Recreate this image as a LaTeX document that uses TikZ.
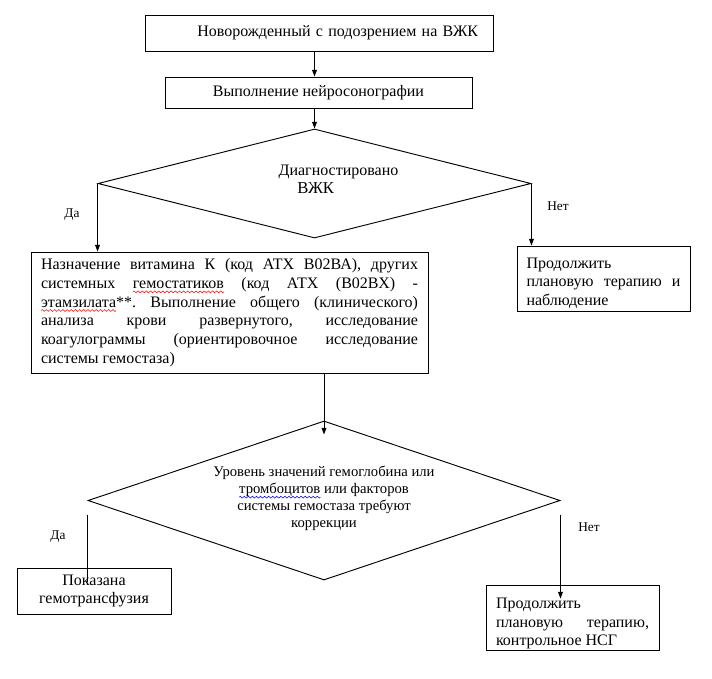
\documentclass[tikz,border=0pt]{standalone}
\usepackage{fontspec}
\setmainfont{Liberation Serif}
\usetikzlibrary{arrows.meta,shapes.geometric}
\frenchspacing
\newsavebox\wavered
\newsavebox\waveblue
\newcommand\wavebit[1]{\begin{pgfpicture}\pgfpathrectangle{\pgfpointorigin}{\pgfpoint{3pt}{0pt}}\pgfusepath{use as bounding box}\pgfsetstrokecolor{#1}\pgfsetlinewidth{0.4pt}\pgfpathmoveto{\pgfpointorigin}\pgfpathlineto{\pgfpoint{0.75pt}{0.7pt}}\pgfpathlineto{\pgfpoint{2.25pt}{-0.7pt}}\pgfpathlineto{\pgfpoint{3pt}{0pt}}\pgfusepath{stroke}\end{pgfpicture}}
\newcommand\wavyunder[2]{\setbox0\hbox{#2}\rlap{\raisebox{-2.6pt}{\hbox to\wd0{\xleaders\copy#1\hfil}}}\box0\relax}
\newcommand\spellred[1]{\wavyunder\wavered{#1}}
\newcommand\spellblue[1]{\wavyunder\waveblue{#1}}
\begin{document}
\sbox\wavered{\wavebit{red}}\sbox\waveblue{\wavebit{blue}}%
\begin{tikzpicture}[x=0.75pt,y=-0.75pt,box/.style={draw=black,line width=0.7pt,inner sep=0pt,font=\fontsize{12}{14}\selectfont},dia/.style={diamond,draw=black,line width=0.7pt,inner sep=0pt},lbl/.style={font=\fontsize{10}{12}\selectfont,inner sep=0pt},arr/.style={-{Triangle[length=5pt,width=3.6pt]},draw=black,line width=0.7pt},ln/.style={draw=black,line width=0.7pt}]
\useasboundingbox (0,0) rectangle (712,678);
\node[box,minimum width=261pt,minimum height=27pt,text width=238.5pt,align=right] (newborn) at (319,33) {Новорожденный с подозрением на ВЖК};
\node[box,minimum width=230.25pt,minimum height=23.25pt] (nsg) at (318.5,92.5) {Выполнение нейросонографии};
\node[dia,minimum width=324.75pt,minimum height=81.75pt] (ivh) at (314.5,183.5) {};
\node[font=\fontsize{12}{13.5}\selectfont,align=left,inner sep=0pt] (ivhtxt) at (338.5,179) {Диагностировано\\\hspace*{14pt}{\fontsize{12.5}{13.5}\selectfont ВЖК}};
\node[box,minimum width=297.75pt,minimum height=90.75pt,text width=282.75pt,align=justify] (treat) at (229.5,312.5) {Назначение витамина К (код АТХ В02ВА), других\linebreak системных \spellred{гемостатиков} (код АТХ (В02ВХ) -\linebreak \spellred{этамзилата}**. Выполнение общего (клинического)\linebreak анализа крови развернутого, исследование\linebreak коагулограммы (ориентировочное исследование\linebreak системы гемостаза)};
\node[box,minimum width=129.75pt,minimum height=48.75pt,text width=115.5pt,align=justify] (contobs) at (603.5,278.5) {\rule{0pt}{15pt}Продолжить\newline плановую терапию и\linebreak наблюдение};
\node[dia,minimum width=354pt,minimum height=119.25pt] (corr) at (324,500.5) {};
\node[font=\fontsize{11}{12.75}\selectfont,align=center,inner sep=0pt] (corrtxt) at (324,498.5) {Уровень значений гемоглобина или\\\spellblue{тромбоцитов} или факторов\\системы гемостаза требуют\\коррекции};
\node[box,minimum width=115.5pt,minimum height=34.5pt,align=center] (transf) at (94,591) {Показана\\гемотрансфузия};
\node[box,minimum width=129.75pt,minimum height=48.75pt,text width=114.75pt,align=justify] (contnsg) at (572.5,617.5) {\rule{0pt}{17pt}Продолжить\newline плановую терапию,\linebreak контрольное НСГ};
\node[lbl] (yes1) at (72,215) {Да};\node[lbl] (no1) at (558,206) {Нет};
\node[lbl] (yes2) at (58,537) {Да};\node[lbl] (no2) at (589,527) {Нет};
\draw[arr](newborn.south -| ivh.north)--(nsg.north -| ivh.north);\draw[arr](nsg.south -| ivh.north)--(ivh.north);
\draw[arr](ivh.west)--(ivh.west |- treat.north);\draw[arr](ivh.east)--(ivh.east |- contobs.north);
\draw[arr](treat.south -| corr.north)--([yshift=-10.5pt]corr.north);
\draw[ln]([yshift=-10.5pt]corr.west)--([yshift=-10.5pt]corr.west |- transf.north);\draw[arr]([yshift=-10.5pt]corr.east)--([yshift=-10.5pt]corr.east |- contnsg.north);
\end{tikzpicture}
\end{document}
